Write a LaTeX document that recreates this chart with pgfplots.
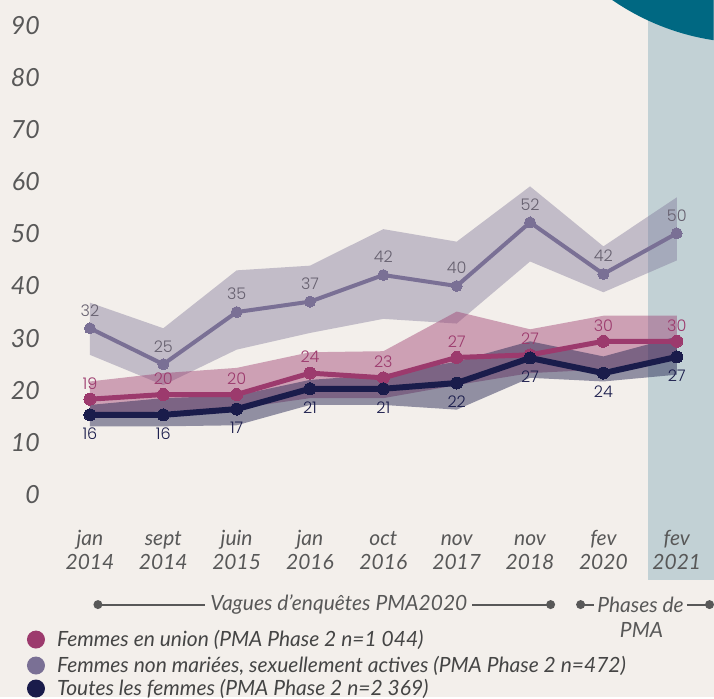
\documentclass[border=0pt]{standalone}
\usepackage{pgfplots}
\pgfplotsset{compat=1.18}
\usepackage{pgfplotstable}
\usepackage{fontspec}
\setmainfont{Lato}
\newfontfamily\poppins{Poppins Light}
\definecolor{bg}{HTML}{F3EFEB}
\definecolor{band}{HTML}{C2D1D5}
\definecolor{tealc}{HTML}{006882}
\definecolor{magc}{HTML}{9C3A6D}
\definecolor{purc}{HTML}{7A7095}
\definecolor{purt}{HTML}{66606F}
\definecolor{navc}{HTML}{1A1C4B}
\definecolor{txt}{HTML}{585858}
\definecolor{legt}{HTML}{454545}

\pgfplotstableread{
x y lab
0 31.9 32
1 25.0 25
2 35.0 35
3 37.0 37
4 42.1 42
5 40.0 40
6 52.2 52
7 42.3 42
8 50.1 50
}\purtab
\pgfplotstableread{
x y lab
0 18.3 19
1 19.2 20
2 19.2 20
3 23.3 24
4 22.4 23
5 26.3 27
6 26.8 27
7 29.4 30
8 29.4 30
}\magtab
\pgfplotstableread{
x y lab
0 15.3 16
1 15.3 16
2 16.4 17
3 20.3 21
4 20.3 21
5 21.4 22
6 26.2 27
7 23.3 24
8 26.4 27
}\navtab

\newcommand{\tl}[2]{\rule{0pt}{17pt}#1\\#2}

\begin{document}
\begin{tikzpicture}
% background and decorations (pixel grid: X = px-45, Y = 495-py)
\fill[bg] (-45pt,-202pt) rectangle (669pt,495pt);
\fill[band] (603pt,-85pt) rectangle (669pt,495pt);
\begin{scope}
\clip (-45pt,-202pt) rectangle (669pt,495pt);
\fill[tealc, overlay] (706pt,696pt) circle[radius=244pt];
\end{scope}

\begin{axis}[
  at={(0pt,0pt)}, anchor=south west,
  scale only axis, width=669pt, height=495pt,
  xmin=-0.613, xmax=8.501, ymin=0, ymax=94.83,
  axis line style={draw=none},
  clip=false,
  xtick={0,...,8},
  xticklabels={{\tl{jan}{2014}},{\tl{sept}{2014}},{\tl{juin}{2015}},{\tl{jan}{2016}},{\tl{oct}{2016}},{\tl{nov}{2017}},{\tl{nov}{2018}},{\tl{fev}{2020}},{\tl{fev}{2021}}},
  ytick={0,10,...,90},
  /pgf/number format/assume math mode=true,
  major tick length=0pt,
  tick style={draw=none},
  xticklabel style={align=center, font=\itshape\fontsize{21}{24.5}\selectfont, text=txt, anchor=north, yshift=-30pt},
  yticklabel style={anchor=east, font=\itshape\fontsize{25}{25}\selectfont, text=txt, inner sep=0pt, xshift=-5pt},
  line join=round,
]
% confidence bands (upper bound left to right, lower bound right to left)
\addplot[fill=purc, fill opacity=0.4, draw=none] coordinates {
 (0,36.8) (1,31.9) (2,43.0) (3,43.9) (4,50.9) (5,48.5) (6,59.1) (7,47.6) (8,57.0)
 (8,44.9) (7,38.8) (6,44.7) (5,32.8) (4,33.7) (3,31.0) (2,27.8) (1,21.0) (0,26.8)} -- cycle;
\addplot[fill=magc, fill opacity=0.43, draw=none] coordinates {
 (0,21.7) (1,23.3) (2,24.3) (3,27.3) (4,27.5) (5,35.1) (6,31.7) (7,34.3) (8,34.3)
 (8,26.2) (7,24.0) (6,23.3) (5,21.0) (4,18.5) (3,18.5) (2,16.5) (1,16.0) (0,15.1)} -- cycle;
\addplot[fill=navc, fill opacity=0.45, draw=none] coordinates {
 (0,17.2) (1,18.5) (2,19.0) (3,22.0) (4,23.0) (5,25.5) (6,29.4) (7,26.5) (8,30.3)
 (8,23.0) (7,21.7) (6,22.4) (5,16.3) (4,17.2) (3,17.2) (2,13.3) (1,13.1) (0,13.1)} -- cycle;

% lines
\addplot[purc, line width=4pt, mark=*, mark size=5.5pt, mark options={fill=purc, draw=purc, line width=0pt},
  nodes near coords, point meta=explicit symbolic,
  every node near coord/.append style={anchor=center, yshift=18pt, font=\poppins\fontsize{16}{16}\selectfont, text=purt}]
  table[x=x,y=y,meta=lab]{\purtab};
\addplot[magc, line width=5pt, mark=*, mark size=6pt, mark options={fill=magc, draw=magc, line width=0pt},
  nodes near coords, point meta=explicit symbolic,
  every node near coord/.append style={anchor=center, yshift=16pt, font=\poppins\fontsize{16}{16}\selectfont, text=magc}]
  table[x=x,y=y,meta=lab]{\magtab};
\addplot[navc, line width=6pt, mark=*, mark size=6pt, mark options={fill=navc, draw=navc, line width=0pt},
  nodes near coords, point meta=explicit symbolic,
  every node near coord/.append style={anchor=center, yshift=-19pt, font=\poppins\fontsize{16}{16}\selectfont, text=navc}]
  table[x=x,y=y,meta=lab]{\navtab};
\end{axis}

% survey-wave annotations
\begin{scope}[txt, line width=2pt, font=\itshape\fontsize{21}{25}\selectfont]
\node[inner sep=4pt, text=txt] (v) at (294pt,-110pt) {Vagues d'enquêtes PMA2020};
\fill (53pt,-110pt) circle[radius=4.5pt];
\fill (506pt,-110pt) circle[radius=4.5pt];
\draw (53pt,-110pt) -- (v.west);
\draw (v.east) -- (506pt,-110pt);
\node[inner sep=2pt, text=txt] (p) at (596pt,-110pt) {Phases de};
\fill (536pt,-110pt) circle[radius=4.5pt];
\fill (665pt,-110pt) circle[radius=4.5pt];
\draw (536pt,-110pt) -- (p.west);
\draw (p.east) -- (665pt,-110pt);
\node[text=txt] at (597pt,-135pt) {PMA};
\end{scope}

% legend
\begin{scope}[font=\itshape\fontsize{21}{25}\selectfont]
\fill[magc] (-9pt,-145pt) circle[radius=9pt];
\node[anchor=west, text=legt, inner sep=0pt] at (12pt,-145pt) {Femmes en union (PMA Phase 2 n=1 044)};
\fill[purc] (-9pt,-171pt) circle[radius=9pt];
\node[anchor=west, text=legt, inner sep=0pt] at (12pt,-171pt) {Femmes non mariées, sexuellement actives (PMA Phase 2 n=472)};
\fill[navc] (-9pt,-194pt) circle[radius=9pt];
\node[anchor=west, text=legt, inner sep=0pt] at (12pt,-194pt) {Toutes les femmes (PMA Phase 2 n=2 369)};
\end{scope}
\end{tikzpicture}
\end{document}
